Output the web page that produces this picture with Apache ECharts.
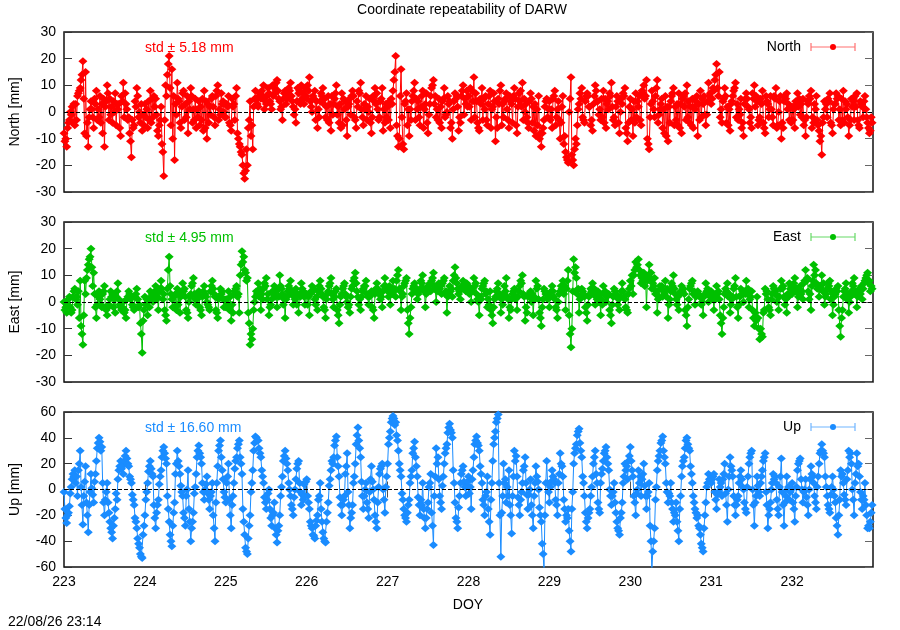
<!DOCTYPE html>
<html>
<head>
<meta charset="utf-8">
<script src="https://cdn.jsdelivr.net/npm/echarts@6/dist/echarts.min.js"></script>
<style>
html,body{margin:0;padding:0;background:#fff;}
#chart{width:900px;height:630px;}
</style>
</head>
<body>
<div id="chart"></div>
<script>
// ---- data (DOY 223..233) ----
// three interleaved sample sets per component: A, B, C (A0,B0,C0,A1,B1,C1,...)
const DOY_START = 223;
const DOY_END = 233;
const dayTicks = [223,224,225,226,227,228,229,230,231,232];

const northA = [
 -8,-13,-3,2,-5,6,9,19,15,-13,4,-6,8,-2,3,-13,10,5,-4,7,1,-9,11,3,-2,-17,-5,9,0,-7,
 3,-6,8,-2,5,-9,2,-24,6,21,16,-18,11,-4,7,3,-8,9,1,-6,4,-3,8,-10,2,6,-5,10,-1,4,
 -2,6,-7,3,9,-12,-16,-25,-20,4,-14,8,2,5,10,3,7,1,9,12,4,-3,8,6,11,2,-4,7,10,3,
 5,13,0,8,-6,4,9,-2,6,-7,3,10,-4,7,1,-9,5,8,-3,2,11,-5,6,0,-8,4,7,-2,9,-4,
 2,-6,8,21,-13,16,-14,7,-9,4,11,1,-5,8,3,-8,6,12,-2,5,-6,9,0,4,-10,7,2,-4,10,3,
 6,-3,13,4,-7,9,1,-5,8,2,-11,5,10,-2,7,-6,3,9,-8,4,11,0,-4,7,2,-9,6,-13,-3,5,
 4,-6,8,1,-10,6,-15,-19,13,-20,-12,3,9,-4,7,2,-7,10,4,-3,8,-6,1,11,-2,6,-8,3,9,-11,
 5,-9,7,2,-5,10,12,-14,8,-2,12,1,-6,6,-11,4,9,-3,7,-8,2,10,-4,5,1,-9,8,3,-5,11,
 3,8,18,15,-4,9,2,-7,6,11,-3,5,-9,7,1,-6,10,4,-2,8,-8,3,6,-5,9,0,-10,4,7,-3,
 2,-6,7,-1,5,-9,3,8,-4,6,-7,-16,4,-2,7,-8,3,6,-5,8,1,-9,5,-3,7,-6,2,6,-4,-7
];
const northB = [
 -11,-6,0,-4,3,7,12,5,-9,-2,1,5,-3,6,-8,2,7,-1,4,-5,3,6,-2,1,-8,-3,4,6,-4,-1,
 -2,4,-4,6,-1,-5,-12,-3,14,9,-10,3,5,-6,8,-2,4,6,-3,1,-5,5,-6,3,-1,2,6,-3,7,0,
 3,-4,5,-3,-8,-13,-20,-22,-6,-9,2,5,6,8,1,6,4,10,7,8,1,5,3,9,6,-1,4,8,5,9,
 10,4,6,-3,1,7,3,2,-4,6,5,-1,3,-5,4,2,-1,6,-6,8,1,3,-3,5,-2,9,1,4,-7,3,
 -3,5,12,-5,-10,-2,3,-5,1,6,-3,4,2,-6,7,-1,9,3,1,-4,4,-2,6,-6,1,5,-7,6,-1,8,
 2,8,-2,-4,5,-3,6,3,-6,7,-2,3,-5,4,1,6,-4,5,2,8,-3,3,-6,5,-7,1,-10,-8,2,-2,
 -3,5,-5,4,-4,-12,-17,0,-16,-14,-5,7,-2,4,6,-5,3,8,-1,5,-4,3,7,2,-5,4,0,7,-6,-4,
 -3,4,-2,6,8,5,-10,-2,4,6,-4,3,1,-9,2,6,-5,3,-6,5,7,-2,2,-6,4,3,-2,6,-1,6,
 5,12,9,-2,4,6,-5,3,8,-2,1,-6,3,5,-4,7,2,-5,5,-4,6,-2,1,6,-6,4,-4,6,1,2,
 -3,4,2,3,-5,-2,6,-6,3,-3,-11,-4,1,5,-4,1,7,-3,5,-4,3,-5,2,6,-3,4,-2,1,-6,-2
];
const northC = [
 -10,-4,-1,3,-3,8,14,-8,-4,1,-2,3,1,-4,5,4,-3,2,0,3,-6,4,7,-3,-11,-6,2,-2,3,-5,
 1,-3,5,2,-7,-3,-15,10,18,-5,6,-1,4,2,-3,6,1,-4,5,-2,2,-7,4,-4,5,-2,8,1,3,-2,
 2,-5,2,6,-10,-15,-23,-14,-3,-5,5,3,7,6,4,9,3,6,11,5,2,7,5,8,4,1,9,3,7,6,
 8,2,5,4,-2,6,5,-3,3,-1,7,2,-6,5,-3,3,6,-2,4,7,-2,1,2,-4,6,3,-3,5,1,-2,
 4,3,15,-9,6,-12,4,1,-3,8,5,-2,6,1,-4,3,10,6,-3,2,5,-1,3,-4,4,6,-2,8,5,2,
 9,4,7,-6,3,5,-3,6,1,4,-6,8,3,5,-3,4,6,-5,7,2,5,-2,4,-4,3,-5,-8,-6,4,1,
 1,6,-2,-3,2,-9,-18,5,-18,-10,1,5,-3,6,2,-3,6,4,1,-2,5,4,6,-3,2,-4,5,6,-8,2,
 1,-4,4,-3,7,6,-12,3,1,9,-1,5,-8,2,-4,7,2,-5,3,6,-3,4,-5,2,6,-3,5,-1,4,7,
 9,14,6,1,5,-4,1,4,9,3,-1,-4,5,2,-2,5,6,-3,3,-6,4,1,-2,5,-5,6,-6,5,3,-4,
 1,3,5,-2,-3,4,5,-2,1,-5,-9,-2,3,4,-5,3,5,1,-3,4,-2,-3,4,2,-5,3,4,-2,-8,-4
];

const eastA = [
 0,-4,2,-3,5,-1,8,-16,3,14,20,11,-6,4,-2,6,-5,1,3,-4,7,-2,0,-6,4,2,-3,5,-1,-19,
 2,-5,4,0,6,-3,8,3,-7,17,1,-2,5,-4,7,2,-6,3,9,-1,4,-5,6,0,-3,8,2,-6,5,1,
 -2,4,-7,3,6,-4,19,12,9,-16,-10,2,7,-3,5,9,-5,1,6,-2,10,3,-6,4,8,-1,5,-4,7,2,
 3,-5,6,1,-3,8,2,-6,4,9,-2,5,-8,3,7,0,-4,6,11,2,-3,5,8,-1,4,-6,7,3,-2,9,
 4,-1,8,2,12,-3,6,9,-12,3,7,1,5,10,-2,6,4,11,0,7,3,9,-4,6,2,13,5,1,8,4,
 6,0,9,3,-5,5,8,-2,4,-8,2,7,-4,3,9,-6,1,5,-3,6,10,-7,2,4,-5,8,1,-9,5,3,
 -2,6,1,-6,4,8,-3,12,-17,16,9,-4,5,2,-7,3,7,-1,4,-5,6,0,3,-8,5,2,-3,7,1,-4,
 8,3,15,16,7,11,-2,14,5,9,-4,6,2,8,-6,4,10,1,-3,6,3,-9,5,8,-1,4,2,-5,7,0,
 4,-3,6,1,-12,3,7,-4,2,9,-6,5,0,8,-2,4,-9,2,-14,-13,5,1,-5,6,3,-3,8,2,-4,7,
 3,9,-2,6,1,12,4,-3,14,7,2,10,-1,5,8,-5,3,6,-13,2,7,-4,4,9,-2,5,1,8,11,4
];
const eastB = [
 -3,-1,-2,2,1,4,-9,-5,9,16,13,3,-1,1,3,-2,-2,4,-2,2,1,-3,-4,1,3,-1,2,1,-8,-7,
 -1,1,2,3,1,4,5,-3,5,6,-2,3,-1,2,4,-3,0,6,3,1,-2,2,3,-1,4,5,-3,1,3,-2,
 1,-3,-1,4,2,10,15,11,-4,-12,-3,4,2,3,7,1,-2,4,2,5,6,-1,1,6,3,2,-1,3,5,-1,
 -1,3,4,-1,4,5,-2,1,6,3,2,-3,-1,5,3,-2,2,8,7,-1,2,6,3,2,-2,3,5,1,4,6,
 2,5,4,8,5,2,7,-3,-6,5,4,3,8,5,3,5,8,6,4,5,7,3,2,4,8,9,3,5,6,7,
 3,5,6,1,2,6,3,1,-3,-2,4,2,1,6,2,-2,3,1,2,8,3,-2,3,0,2,5,-4,-2,4,1,
 2,4,-2,0,6,3,5,-5,-10,11,3,1,4,-2,-1,5,3,2,0,1,3,2,-3,-1,4,-1,2,4,-2,3,
 6,10,13,12,9,6,8,9,7,3,1,5,4,2,-1,7,5,-1,3,4,-3,-2,6,3,2,3,-1,2,4,3,
 1,2,3,-5,-6,5,2,-1,5,2,-1,3,4,3,1,-3,-4,-6,-10,-4,3,-2,1,5,0,2,5,-1,3,5,
 6,4,2,3,7,8,1,6,10,5,6,4,2,7,1,-1,5,-3,-6,4,1,0,7,3,2,3,5,9,7,6
];
const eastC = [
 -2,1,-4,4,2,-6,-12,8,12,17,6,-2,2,-1,4,-3,-1,2,1,4,-1,-2,-3,2,1,-2,3,-2,-12,-3,
 1,-2,3,4,2,5,1,-5,12,3,2,-3,4,3,5,-4,2,7,1,3,-3,4,2,-2,6,3,-4,2,4,1,
 -1,2,-4,5,3,14,17,8,-8,-14,0,3,5,1,6,3,-1,3,4,2,5,1,2,5,4,1,3,2,4,3,
 2,4,5,2,6,3,-3,3,7,1,4,-5,2,6,2,-1,5,9,4,1,4,6,2,3,-3,5,4,2,6,5,
 6,3,5,10,4,3,8,-8,-2,6,5,4,7,4,4,7,9,5,6,6,8,4,3,5,10,7,4,6,5,6,
 5,4,7,0,1,7,4,-1,-5,1,5,3,-1,4,1,-3,4,2,4,7,2,-4,2,3,1,6,-6,1,3,2,
 4,2,-3,3,5,6,8,-12,4,13,5,2,3,-4,2,4,5,1,3,-1,4,3,-5,2,3,1,4,2,-3,5,
 10,12,14,10,8,9,10,11,6,4,2,6,3,5,1,6,3,2,4,5,-5,1,7,4,3,2,0,3,5,2,
 3,1,4,-8,-2,4,3,1,6,-2,2,4,3,5,2,-6,-7,-10,-12,-3,4,-3,3,4,2,5,6,1,2,6,
 7,5,3,4,8,9,3,8,12,6,5,7,3,6,4,2,4,-9,-3,5,3,2,6,4,3,6,7,10,8,5
];

const upA = [
 -2,-26,-13,8,15,-5,30,-27,18,-33,12,-10,22,40,33,-20,5,-25,-38,-15,8,22,12,30,18,5,-12,-30,-45,-53,
 -20,5,22,10,-30,-8,15,33,20,-25,-44,-10,30,12,-5,-28,15,-40,-18,12,34,20,-8,10,-15,5,-40,18,38,8,
 -10,20,-30,5,25,38,12,-35,-50,-20,15,41,38,25,5,-15,0,-28,-10,-41,-20,10,30,15,-5,-20,8,22,-12,4,
 8,-15,-30,-38,-20,5,-33,-41,-10,15,25,41,10,-20,-5,28,-30,-12,20,48,25,-15,5,-22,18,-8,-30,12,20,-18,
 20,45,57,52,30,10,-15,-25,-8,15,37,10,-20,5,-30,-10,12,-43,32,8,-15,20,35,51,40,-10,-30,5,18,-5,
 10,-15,25,41,30,5,-20,10,-35,22,45,58,-52,20,-10,15,-34,30,10,-20,5,25,-15,8,-30,18,0,-25,-62,22,
 -10,15,5,-20,28,10,-25,-15,-48,20,35,47,25,-5,-30,-15,10,30,-10,5,22,33,15,-12,5,-25,-35,-10,20,8,
 33,10,-20,15,-5,20,-15,5,-62,-30,15,30,41,20,-10,5,-25,-10,-40,10,25,40,30,5,-15,-20,-35,-48,-10,12,
 5,12,-15,8,-5,20,-25,25,10,-20,-5,15,0,-18,20,30,-28,10,-5,15,28,-30,-10,12,5,-20,24,-28,10,-8,
 5,-25,15,24,-10,8,-20,18,5,-15,20,35,25,-5,-18,10,-10,-35,15,5,-12,30,20,-20,28,10,-15,5,-30,-25
];
const upB = [
 -15,-20,-3,12,5,15,2,-5,-10,-12,1,6,32,37,5,-8,-10,-30,-28,-3,15,16,22,24,10,-4,-22,-38,-50,-35,
 -8,14,16,-12,-18,4,25,28,-5,-35,-28,12,22,3,-18,-5,-15,-30,-3,25,28,5,0,-3,-5,-20,-10,30,25,-2,
 5,-8,-12,16,32,25,-15,-45,-38,-2,30,40,32,15,-6,-8,-15,-20,-30,-32,-5,22,24,5,-12,-6,16,5,-4,-5,
 -5,-25,-35,-28,-8,-15,-38,-25,3,22,34,25,-6,-12,12,-2,-22,5,35,38,6,-5,-10,-2,6,-20,-10,16,0,2,
 35,52,55,42,20,-3,-20,-18,5,28,25,-6,-8,-15,-22,2,-18,-5,20,-5,3,28,44,46,15,-22,-14,12,6,3,
 -3,8,35,36,18,-8,-5,-15,-8,35,52,5,-18,5,2,-12,-5,22,-6,-8,15,5,-4,-12,-5,10,-14,-42,-20,5,
 2,10,-8,5,20,-8,-20,-32,-15,28,42,36,10,-18,-22,-5,20,12,-15,12,28,25,0,-5,-10,-30,-22,5,15,22,
 22,-5,-3,5,8,3,-5,-28,-48,-8,22,36,30,5,-3,-10,-18,-25,-15,18,32,35,18,-5,-18,-28,-42,-30,2,8,
 8,-2,-4,2,8,-3,0,18,-5,-12,5,8,-10,2,25,0,-10,3,5,22,-2,-20,0,8,-8,2,-2,-10,0,-2,
 -10,-5,20,8,-2,-6,0,12,-5,2,28,30,10,-12,-4,0,-22,-20,10,-4,8,25,0,5,18,-2,-5,-12,-28,-18
];
const upC = [
 -22,-18,2,10,10,20,-12,6,-20,-2,-4,12,36,30,-10,-2,-18,-33,-22,-8,18,18,26,20,8,-8,-25,-42,-52,-28,
 -2,18,12,-22,-12,10,30,24,-15,-40,-18,20,18,-2,-22,0,-25,-25,2,30,25,-2,4,-8,-2,-30,5,34,15,-6,
 10,-20,-5,22,35,20,-25,-48,-28,5,36,38,28,10,-10,-3,-22,-18,-35,-28,2,26,20,0,-15,0,20,-2,-8,6,
 -10,-28,-36,-24,-5,-25,-40,-18,8,20,38,18,-12,-8,18,-12,-18,10,42,32,-5,0,-15,8,0,-25,2,18,-8,10,
 40,55,50,38,15,-8,-22,-12,10,32,18,-12,-12,-22,-15,5,-28,10,25,-10,10,32,48,44,5,-25,-5,15,2,6,
 2,15,38,34,12,-12,-2,-25,5,40,55,-20,-5,8,-5,-20,10,26,-12,-2,18,-4,0,-20,5,6,-20,-50,5,-2,
 6,8,-12,12,18,-15,-22,-40,-2,32,45,30,5,-25,-18,2,25,5,-18,16,30,20,-5,-2,-18,-32,-18,10,18,26,
 15,-10,0,10,12,-5,-2,-40,-40,2,26,38,25,-2,-5,-15,-20,-32,-5,22,38,32,12,-10,-22,-30,-45,-20,5,8,
 10,-8,-2,5,12,-12,10,15,-12,-8,10,2,-15,10,28,-12,-5,-2,10,25,-12,-15,5,10,-15,10,-12,-5,2,0,
 -15,2,22,0,0,-12,8,10,-10,10,30,28,2,-15,2,-5,-28,-8,12,-8,15,28,-8,12,20,-8,-8,-20,-30,-12
];

const panelNames = ['North','East','Up'];
const axisNames = ['North [mm]','East [mm]','Up [mm]'];
const stdTexts = ['std \u00b1 5.18 mm','std \u00b1 4.95 mm','std \u00b1 16.60 mm'];
const yRanges = [[-30,30,10],[-30,30,10],[-60,60,20]];

// ---- layout / style ----
const colors = ['#ff0000','#00c000','#1a8cff'];
const legendLine = ['#ff7070','#66d966','#70b5ff'];
const FONT = 'Liberation Sans, Arial, sans-serif';
const grids = [
  {left:64, top:32, width:809, height:160},
  {left:64, top:222, width:809, height:160},
  {left:64, top:412, width:809, height:155}
];

function interleave(a, b, c){
  const out = [];
  for (let i=0;i<a.length;i++){
    out.push(a[i]);
    if (b[i] !== undefined) out.push(b[i]);
    if (c[i] !== undefined) out.push(c[i]);
  }
  return out;
}
function toPairs(vals){
  const step = (DOY_END - DOY_START) / vals.length;
  return vals.map((v,i)=>[DOY_START + i*step, v]);
}
const allValues = [
  interleave(northA, northB, northC),
  interleave(eastA, eastB, eastC),
  interleave(upA, upB, upC)
];

const xAxes = [], yAxes = [], series = [], graphics = [];
grids.forEach((g,k)=>{
  const last = k===2;
  xAxes.push({
    type:'value', gridIndex:k, min:DOY_START, max:DOY_END, interval:1, position:'bottom',
    axisLine:{show:false}, splitLine:{show:false},
    axisTick:{show:last, inside:true, length:8, lineStyle:{color:'#555'}},
    axisLabel:{show:last, margin:8, fontSize:14, color:'#000', fontFamily:FONT, showMaxLabel:false,
      formatter:v=>String(v)}
  });
  const yr = yRanges[k];
  yAxes.push({
    type:'value', gridIndex:k, min:yr[0], max:yr[1], interval:yr[2], position:'left',
    axisLine:{show:false}, splitLine:{show:false},
    axisTick:{show:true, inside:true, length:8, lineStyle:{color:'#333'}},
    axisLabel:{margin:8, fontSize:14, color:'#000', fontFamily:FONT}
  });
  yAxes.push({
    type:'value', gridIndex:k, min:yr[0], max:yr[1], interval:yr[2], position:'right',
    axisLine:{show:false}, splitLine:{show:false},
    axisTick:{show:true, inside:true, length:8, lineStyle:{color:'#666'}},
    axisLabel:{show:false}
  });
});
xAxes.push({
  type:'value', gridIndex:2, min:DOY_START, max:DOY_END, interval:1, position:'top',
  axisLine:{show:false}, splitLine:{show:false},
  axisTick:{show:true, inside:true, length:8, lineStyle:{color:'#555'}},
  axisLabel:{show:false}
});

grids.forEach((g,k)=>{
  series.push({
    type:'line', xAxisIndex:k, yAxisIndex:2*k, data:[], z:1, silent:true,
    markLine:{silent:true, symbol:'none', animation:false, label:{show:false},
      lineStyle:{color:'#000', type:'dashed', width:1}, data:[{yAxis:0}]}
  });
  series.push({
    name:panelNames[k], type:'line', xAxisIndex:k, yAxisIndex:2*k, z:3,
    data:toPairs(allValues[k]),
    symbol:'diamond', symbolSize:[9,8], showAllSymbol:true,
    lineStyle:{color:colors[k], width:1},
    itemStyle:{color:colors[k]},
    emphasis:{disabled:true}
  });
  const cy = g.top + g.height/2;
  graphics.push({type:'text', x:15, y:cy, rotation:Math.PI/2,
    style:{text:axisNames[k], fill:'#000', font:'14px '+FONT, textAlign:'center', textVerticalAlign:'middle'}});
  graphics.push({type:'text', x:145, y:g.top+16,
    style:{text:stdTexts[k], fill:colors[k], font:'14px '+FONT, textAlign:'left', textVerticalAlign:'middle'}});
  const ly = g.top + 15;
  graphics.push({type:'text', x:801, y:ly,
    style:{text:panelNames[k], fill:'#000', font:'14px '+FONT, textAlign:'right', textVerticalAlign:'middle'}});
  graphics.push({type:'line', shape:{x1:811,y1:ly,x2:855,y2:ly}, style:{stroke:legendLine[k], lineWidth:1.2}});
  graphics.push({type:'line', shape:{x1:811,y1:ly-4,x2:811,y2:ly+4}, style:{stroke:legendLine[k], lineWidth:1.2}});
  graphics.push({type:'line', shape:{x1:855,y1:ly-4,x2:855,y2:ly+4}, style:{stroke:legendLine[k], lineWidth:1.2}});
  graphics.push({type:'circle', shape:{cx:833, cy:ly, r:3}, style:{fill:colors[k]}});
});
graphics.push({type:'text', x:462, y:10,
  style:{text:'Coordinate repeatability of DARW', fill:'#000', font:'14px '+FONT, textAlign:'center', textVerticalAlign:'middle'}});
graphics.push({type:'text', x:468, y:605,
  style:{text:'DOY', fill:'#000', font:'14px '+FONT, textAlign:'center', textVerticalAlign:'middle'}});
graphics.push({type:'text', x:8, y:622,
  style:{text:'22/08/26 23:14', fill:'#000', font:'14px '+FONT, textAlign:'left', textVerticalAlign:'middle'}});

const chart = echarts.init(document.getElementById('chart'), null, {renderer:'canvas'});
chart.setOption({
  animation:false,
  backgroundColor:'#fff',
  grid: grids.map(g=>Object.assign({show:true, borderColor:'#111', borderWidth:1.5, backgroundColor:'transparent'}, g)),
  xAxis:xAxes,
  yAxis:yAxes,
  series:series,
  graphic:graphics
});
</script>
</body>
</html>
